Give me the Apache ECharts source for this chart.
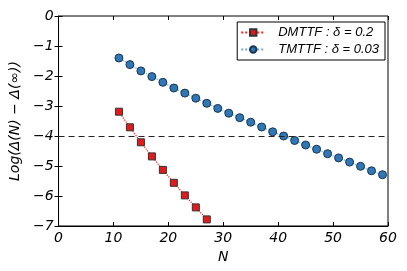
<!DOCTYPE html>
<html><head><meta charset="utf-8">
<script src="https://cdn.jsdelivr.net/npm/echarts@6/dist/echarts.min.js"></script>
<style>html,body{margin:0;padding:0;background:#fff}#c{width:407px;height:271px}</style>
</head><body><div id="c"></div>
<script>
const blueN = [11,13,15,17,19,21,23,25,27,29,31,33,35,37,39,41,43,45,47,49,51,53,55,57,59];
const blueV = [-1.40,-1.62,-1.83,-2.02,-2.21,-2.40,-2.57,-2.74,-2.91,-3.08,-3.24,-3.39,-3.54,-3.70,-3.86,-4.00,-4.15,-4.30,-4.44,-4.59,-4.73,-4.87,-5.01,-5.16,-5.29];
const redN = [11,13,15,17,19,21,23,25,27];
const redV = [-3.19,-3.71,-4.21,-4.68,-5.13,-5.56,-5.98,-6.38,-6.78];
const refLine = -4;
const redName = 'DMTTF : δ = 0.2';
const blueName = 'TMTTF : δ = 0.03';
const font = 'DejaVu Sans';
const fmt = v => String(v).replace('-', '\u2212');
const chart = echarts.init(document.getElementById('c'));
const axisCommon = {
  axisLine:{show:true,onZero:false,lineStyle:{color:'#000',width:1}},
  axisTick:{show:true,inside:true,length:4,lineStyle:{color:'#000'}},
  splitLine:{show:false},
  axisLabel:{color:'#000',fontFamily:font,fontStyle:'italic',fontSize:14,margin:5,formatter:fmt}
};
chart.setOption({
  animation:false,
  grid:{left:54,right:19,top:16,bottom:45,show:true,borderColor:'#000',borderWidth:1},
  legend:{
    right:22,top:22,orient:'vertical',
    backgroundColor:'#fff',borderColor:'#000',borderWidth:1,borderRadius:0,
    padding:[4,6,4,3],itemGap:4,itemWidth:24,itemHeight:8,
    textStyle:{fontFamily:'Liberation Sans',fontStyle:'italic',fontSize:13,color:'#000',padding:[0,0,0,8]},
    data:[redName,blueName]
  },
  xAxis:[Object.assign({type:'value',min:0,max:60,interval:10,
    name:'N',nameLocation:'middle',nameGap:23,
    nameTextStyle:{fontFamily:font,fontStyle:'italic',fontSize:14,color:'#000'}},axisCommon),
    {type:'value',min:0,max:60,interval:10,position:'top',axisLine:{show:false},axisLabel:{show:false},
     axisTick:{show:true,inside:true,length:4,lineStyle:{color:'#000'}},splitLine:{show:false}}],
  yAxis:[Object.assign({type:'value',min:-7,max:0,interval:1,
    name:'Log(Δ(N) \u2212 Δ(∞))',nameLocation:'middle',nameGap:33,
    nameTextStyle:{fontFamily:font,fontStyle:'italic',fontSize:14,color:'#000'}},axisCommon),
    {type:'value',min:-7,max:0,interval:1,position:'right',axisLine:{show:false},axisLabel:{show:false},
     axisTick:{show:true,inside:true,length:4,lineStyle:{color:'#000'}},splitLine:{show:false}}],
  series:[
    {name:redName,type:'line',data:redN.map((n,i)=>[n,redV[i]]),
     symbol:'rect',symbolSize:7,
     lineStyle:{color:'#ff2020',width:1.2,type:'dotted'},
     itemStyle:{color:'#e31a1c',borderColor:'#333',borderWidth:1},
     markLine:{silent:true,symbol:'none',label:{show:false},
       lineStyle:{color:'#222',type:[6,4],width:1.2},data:[{yAxis:refLine}]}},
    {name:blueName,type:'line',data:blueN.map((n,i)=>[n,blueV[i]]),
     symbol:'circle',symbolSize:8,
     lineStyle:{color:'#6fa8d6',width:1.2,type:'dotted'},
     itemStyle:{color:'#2f78b5',borderColor:'#1a3550',borderWidth:1}}
  ]
});
</script></body></html>
